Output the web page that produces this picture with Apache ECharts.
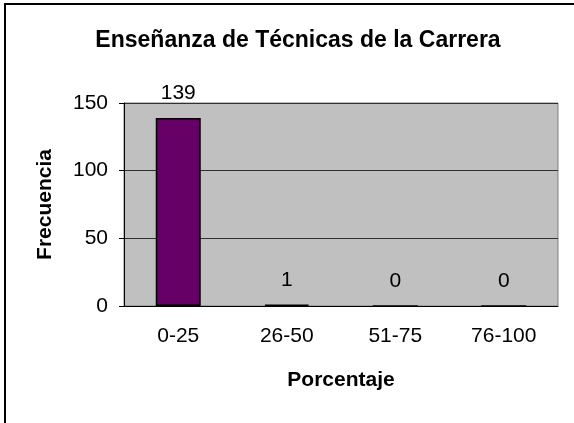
<!DOCTYPE html>
<html>
<head>
<meta charset="utf-8">
<script src="https://cdn.jsdelivr.net/npm/echarts@6/dist/echarts.min.js"></script>
<style>
  html, body { margin: 0; padding: 0; background: #fff; }
  #chart { width: 574px; height: 423px; }
</style>
</head>
<body>
<div id="chart"></div>
<script>
// datos del grafico
var categorias = ['0-25', '26-50', '51-75', '76-100'];
var frecuencias = [139, 1, 0, 0];
var ejeY = { min: 0, max: 150, paso: 50 };

var fuente = 'Arial, "Liberation Sans", sans-serif';
var myChart = echarts.init(document.getElementById('chart'));
var option = {
    animation: false,
    backgroundColor: '#ffffff',
    title: {
        text: 'Enseñanza de Técnicas de la Carrera',
        left: 293, top: 24, textAlign: 'center',
        textStyle: { fontFamily: fuente, fontSize: 23, fontWeight: 'bold', color: '#000' }
    },
    graphic: [{
        type: 'rect', silent: true,
        shape: { x: 5, y: 4, width: 700, height: 600 },
        style: { fill: 'none', stroke: '#000', lineWidth: 2 }
    }],
    grid: {
        left: 124, right: 16, top: 103, bottom: 117,
        show: true, backgroundColor: '#C0C0C0', borderColor: '#808080', borderWidth: 1
    },
    xAxis: {
        type: 'category',
        data: categorias,
        name: 'Porcentaje', nameLocation: 'middle', nameGap: 64,
        nameTextStyle: { fontFamily: fuente, fontSize: 21, fontWeight: 'bold', color: '#000' },
        axisLine: { lineStyle: { color: '#000', width: 1 } },
        axisTick: { length: 5, lineStyle: { color: '#000' } },
        axisLabel: { margin: 20, fontFamily: fuente, fontSize: 21, color: '#000' }
    },
    yAxis: {
        type: 'value',
        min: ejeY.min, max: ejeY.max, interval: ejeY.paso,
        name: 'Frecuencia', nameLocation: 'middle', nameGap: 68,
        nameTextStyle: { fontFamily: fuente, fontSize: 21, fontWeight: 'bold', color: '#000' },
        axisLine: { show: true, lineStyle: { color: '#000', width: 1 } },
        axisTick: { show: true, length: 5, lineStyle: { color: '#000' } },
        axisLabel: { margin: 16, fontFamily: fuente, fontSize: 21, color: '#000' },
        splitLine: { show: true, lineStyle: { color: '#303030', width: 1 } }
    },
    series: [{
        type: 'bar',
        data: frecuencias,
        barWidth: 45,
        itemStyle: { color: '#660066', borderColor: '#000', borderWidth: 1.5 },
        label: {
            show: true, position: 'top', distance: 14,
            fontFamily: fuente, fontSize: 21, color: '#000'
        }
    }]
};
myChart.setOption(option);
</script>
</body>
</html>
